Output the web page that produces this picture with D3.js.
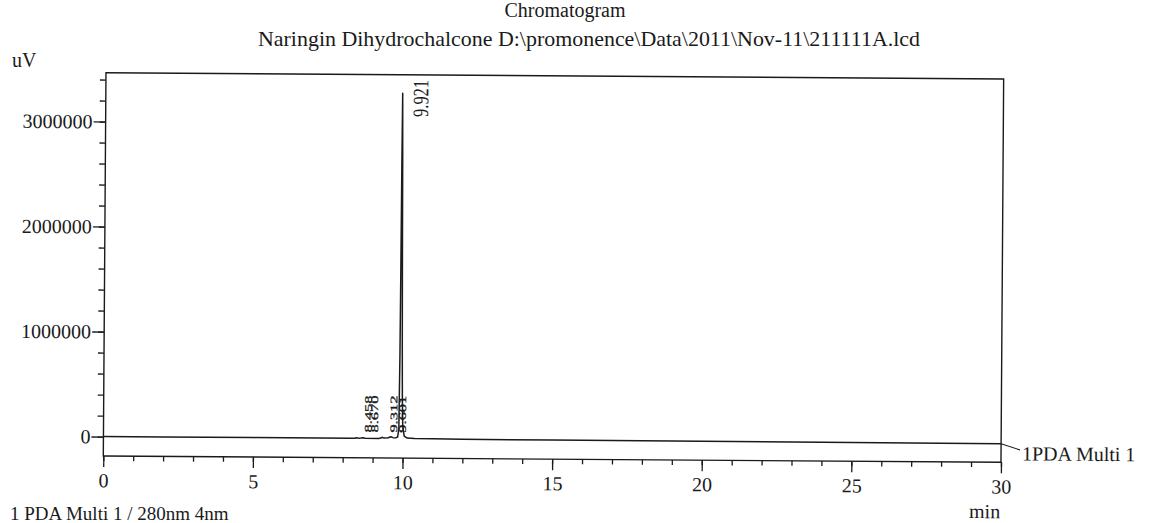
<!DOCTYPE html>
<html>
<head>
<meta charset="utf-8">
<script src="https://cdn.jsdelivr.net/npm/d3@7"></script>
<style>
  html, body { margin: 0; padding: 0; background: #fff; }
  svg { display: block; }
  text { font-family: 'Liberation Serif', 'Times New Roman', serif; fill: #1a1a1a; }
</style>
</head>
<body>
<svg id="chart" width="1153" height="523"></svg>
<script>
// Trace of the chromatogram (min, uV)
var times = [0, 2, 5, 8.30, 8.40, 8.458, 8.52, 8.60, 8.670, 8.75, 9.20, 9.27, 9.312, 9.36, 9.52, 9.601,
  9.68, 9.76, 9.83, 9.87, 9.89, 9.90, 9.91, 9.921, 9.935, 9.95, 9.965, 9.98, 10.00, 10.05, 10.15,
  10.4, 11, 12, 15, 20, 25, 30];
var signal = [0, 0, 0, 0, 1500, 6000, 2000, 2500, 5000, 1500, 1000, 4000, 12000, 6000, 8000, 18000,
  9000, 7000, 15000, 90000, 800000, 1600000, 2600000, 3290000, 2700000, 1700000, 900000, 400000,
  120000, 25000, 6000, 2000, 0, -1500, -3000, -5000, -7000, -9000];

// Detected peaks
var peakTimes = [8.458, 8.670, 9.312, 9.601, 9.921];
var peakHeights = [6000, 5000, 12000, 18000, 3290000];
var peakLabels = ['8.458', '8.670', '9.312', '9.601', '9.921'];

// Axis ticks
var xMajor = [0, 5, 10, 15, 20, 25, 30];
var xMinor = d3.range(0, 31, 1);
var yMajor = [0, 1000000, 2000000, 3000000];
var yMinor = d3.range(0, 3400001, 200000);

var titleText = 'Chromatogram';
var subtitleText = 'Naringin Dihydrochalcone D:\\promonence\\Data\\2011\\Nov-11\\211111A.lcd';
var traceName = '1PDA Multi 1';
var footText = '1 PDA Multi 1 / 280nm 4nm';

var svg = d3.select('#chart');
var ink = '#1a1a1a';

var x = d3.scaleLinear().domain([0, 30]).range([103.3, 1001]);
var y = d3.scaleLinear().domain([-185000, 3465000]).range([456, 72.7]);

// titles (not part of the tilted scan area)
svg.append('text').attr('x', 565).attr('y', 17).attr('text-anchor', 'middle')
  .style('font-size', '20px').text(titleText);
svg.append('text').attr('x', 589).attr('y', 46).attr('text-anchor', 'middle')
  .attr('textLength', 662).attr('lengthAdjust', 'spacingAndGlyphs')
  .style('font-size', '21px').text(subtitleText);
svg.append('text').attr('x', 12).attr('y', 67).style('font-size', '20px').text('uV');
svg.append('text').attr('x', 10).attr('y', 520).style('font-size', '19px').text(footText);

// the printout is scanned slightly crooked
var g = svg.append('g').attr('transform', 'rotate(0.4, 103.3, 456)');

// frame
g.append('rect')
  .attr('x', x.range()[0]).attr('y', y.range()[1])
  .attr('width', x.range()[1] - x.range()[0])
  .attr('height', y.range()[0] - y.range()[1])
  .attr('fill', 'none').attr('stroke', ink).attr('stroke-width', 1.4);

// x axis: minor then major ticks
g.append('g').attr('transform', 'translate(0,' + y.range()[0] + ')')
  .call(d3.axisBottom(x).tickValues(xMinor).tickSize(5).tickFormat(''))
  .call(function (a) { a.select('.domain').remove(); });
var xAxis = g.append('g').attr('transform', 'translate(0,' + y.range()[0] + ')')
  .call(d3.axisBottom(x).tickValues(xMajor).tickSize(11).tickPadding(6).tickFormat(d3.format('d')));
xAxis.select('.domain').remove();
xAxis.selectAll('text').style('font-size', '20px');

// y axis
g.append('g').attr('transform', 'translate(' + x.range()[0] + ',0)')
  .call(d3.axisLeft(y).tickValues(yMinor).tickSize(6).tickFormat(''))
  .call(function (a) { a.select('.domain').remove(); });
var yAxis = g.append('g').attr('transform', 'translate(' + x.range()[0] + ',0)')
  .call(d3.axisLeft(y).tickValues(yMajor).tickSize(12).tickPadding(1).tickFormat(d3.format('d')));
yAxis.select('.domain').remove();
yAxis.selectAll('text').style('font-size', '20px');

g.selectAll('.tick line').attr('stroke', ink).attr('stroke-width', 1.3);
g.selectAll('.tick text').attr('fill', ink);

// trace
var line = d3.line()
  .x(function (d, i) { return x(times[i]); })
  .y(function (d) { return y(d); });

g.append('path')
  .datum(signal)
  .attr('d', line)
  .attr('fill', 'none')
  .attr('stroke', ink)
  .attr('stroke-width', 1.5)
  .attr('stroke-linejoin', 'round');

// retention time labels, rotated to read bottom to top
peakTimes.forEach(function (t, i) {
  var big = peakHeights[i] > 1000000;
  var px = x(t) + (big ? 25.5 : 15);
  var py = Math.min(y(peakHeights[i]) + 23.6, y(0) - 6);
  g.append('text')
    .attr('transform', 'translate(' + px + ',' + py + ') rotate(-90)')
    .attr('textLength', big ? 37 : 37)
    .attr('lengthAdjust', 'spacingAndGlyphs')
    .attr('stroke', big ? 'none' : ink)
    .attr('stroke-width', 0.3)
    .style('font-size', big ? '22px' : '10px')
    .text(peakLabels[i]);
});

// trace name with leader line
var xEnd = x(times[times.length - 1]);
var yEnd = y(signal[signal.length - 1]);
g.append('line')
  .attr('x1', xEnd).attr('y1', yEnd)
  .attr('x2', xEnd + 19).attr('y2', yEnd + 6)
  .attr('stroke', ink).attr('stroke-width', 1);
g.append('text').attr('x', xEnd + 21).attr('y', yEnd + 16.5)
  .style('font-size', '20px').text(traceName);

g.append('text').attr('x', 985).attr('y', 512).attr('text-anchor', 'middle')
  .style('font-size', '20px').text('min');
</script>
</body>
</html>
